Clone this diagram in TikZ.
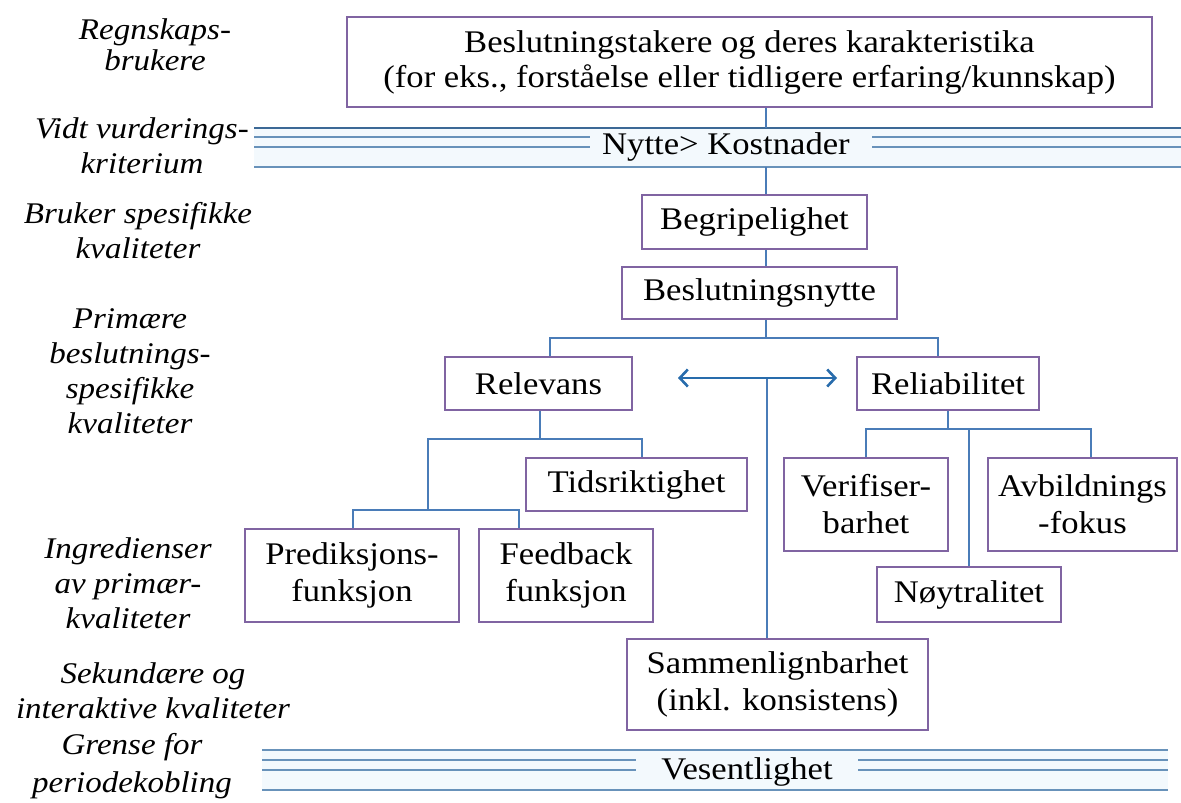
\documentclass[tikz,border=0pt]{standalone}
\usepackage{fontspec}
\setmainfont{Liberation Serif}[FakeStretch=1.1]
\usetikzlibrary{arrows.meta}

\definecolor{boxline}{RGB}{128,100,162}
\definecolor{linkblue}{RGB}{74,124,184}
\definecolor{bandblue}{RGB}{104,146,186}
\definecolor{banddark}{RGB}{60,105,150}
\definecolor{bandtint}{RGB}{243,249,253}
\definecolor{arrowblue}{RGB}{40,108,172}

\begin{document}
\begin{tikzpicture}[x=1pt,y=-1pt,
  box/.style={draw=boxline, line width=1.6pt, align=center, inner sep=0pt,
              font=\fontsize{31.5}{37}\selectfont},
  bandtext/.style={inner sep=0pt, font=\fontsize{31.5}{37}\selectfont},
  lbl/.style={align=center, inner sep=0pt, font=\fontsize{30}{35}\selectfont\itshape},
  conn/.style={draw=linkblue, line width=1.8pt},
  bandline/.style={draw=bandblue, line width=1.8pt},
  barb/.tip={Straight Barb[length=8pt,width=17pt,line width=2.6pt]},
]
\useasboundingbox[fill=white] (0,0) rectangle (1181,803);

% ---------- left column: level labels ----------
\node[lbl, font=\fontsize{30}{31}\selectfont\itshape] (lab1) at (155,45) {Regnskaps-\\brukere};
\node[lbl] (lab2) at (142,146) {Vidt vurderings-\\kriterium};
\node[lbl] (lab3) at (138,231) {Bruker spesifikke\\kvaliteter};
\node[lbl] (lab4) at (130,371) {Primære\\beslutnings-\\spesifikke\\kvaliteter};
\node[lbl] (lab5) at (128,583) {Ingredienser\\av primær-\\kvaliteter};
\node[lbl] (lab6) at (153,691) {Sekundære og\\interaktive kvaliteter};
\node[lbl, font=\fontsize{30}{38}\selectfont\itshape] (lab7) at (132,766) {Grense for\\periodekobling};

% ---------- band: Nytte > Kostnader ----------
\fill[bandtint] (254,128) rectangle (1181,167);
\draw[draw=banddark, line width=1.8pt] (254,128) -- (1181,128);
\draw[bandline] (254,137) -- (590,137) (254,147) -- (590,147);
\draw[bandline] (872,137) -- (1181,137) (872,147) -- (1181,147);
\draw[bandline] (254,167) -- (1181,167);
\node[bandtext] (nk) at (726,147) {Nytte> Kostnader};

% ---------- band: Vesentlighet ----------
\fill[bandtint] (262,750) rectangle (1168,790);
\draw[bandline] (262,750) -- (1168,750);
\draw[bandline] (262,760) -- (636,760) (262,770) -- (636,770);
\draw[bandline] (858,760) -- (1168,760) (858,770) -- (1168,770);
\draw[bandline] (262,790) -- (1168,790);
\node[bandtext] (ves) at (747,772) {Vesentlighet};

% ---------- boxes ----------
\node[box, minimum width=805pt, minimum height=90pt, font=\fontsize{31.5}{35}\selectfont]
  (top) at (749.5,62) {Beslutningstakere og deres karakteristika\\(for eks., forståelse eller tidligere erfaring/kunnskap)};
\node[box, minimum width=225pt, minimum height=54pt] (beg) at (754.5,222) {Begripelighet};
\node[box, minimum width=275pt, minimum height=52pt] (nyt) at (759.5,293) {Beslutningsnytte};
\node[box, minimum width=187pt, minimum height=53pt] (rel) at (538.5,383.5) {Relevans};
\node[box, minimum width=182pt, minimum height=53pt] (rlb) at (948,383.5) {Reliabilitet};
\node[box, minimum width=221pt, minimum height=53pt] (tid) at (636.5,484.5) {Tidsriktighet};
\node[box, minimum width=214pt, minimum height=93pt] (pred) at (352,575.5) {Prediksjons-\\funksjon};
\node[box, minimum width=174pt, minimum height=93pt] (feed) at (566,575.5) {Feedback\\funksjon};
\node[box, minimum width=164pt, minimum height=93pt] (ver) at (866,504.5) {Verifiser-\\barhet};
\node[box, minimum width=189pt, minimum height=93pt] (avb) at (1082.5,504.5) {Avbildnings\\-fokus};
\node[box, minimum width=184pt, minimum height=55pt] (noy) at (969,594.5) {Nøytralitet};
\node[box, minimum width=301pt, minimum height=91pt] (sam) at (777.5,684.5) {Sammenlignbarhet\\(inkl. konsistens)};

% ---------- junction points ----------
\coordinate (colM) at (766,0);
\coordinate (b1top) at (766,128);
\coordinate (b1bot) at (766,167);
\coordinate (barM) at (766,338);
\coordinate (barL) at (550,338);
\coordinate (barR) at (938,338);
\coordinate (relB) at (540,439);
\coordinate (jTL) at (428,439);
\coordinate (jTR) at (642,439);
\coordinate (jPF) at (428,510);
\coordinate (jP) at (353,510);
\coordinate (jF) at (519,510);
\coordinate (rlbB) at (948,429);
\coordinate (jV) at (866,429);
\coordinate (jA) at (1091,429);
\coordinate (jN) at (969,429);
\coordinate (arrL) at (678,378);
\coordinate (arrR) at (837,378);
\coordinate (midTop) at (767,378);

% ---------- connectors ----------
\draw[conn] (top.south -| colM) -- (b1top);
\draw[conn] (b1bot) -- (beg.north -| colM);
\draw[conn] (beg.south -| colM) -- (nyt.north -| colM);
\draw[conn] (nyt.south -| colM) -- (barM);
\draw[conn] (rel.north -| barL) -- (barL) -- (barR) -- (rlb.north -| barR);

\draw[conn] (rel.south -| relB) -- (relB);
\draw[conn] (jPF) -- (jTL) -- (jTR) -- (tid.north -| jTR);
\draw[conn] (pred.north -| jP) -- (jP) -- (jF) -- (feed.north -| jF);

\draw[conn] (rlb.south -| rlbB) -- (rlbB);
\draw[conn] (ver.north -| jV) -- (jV) -- (jA) -- (avb.north -| jA);
\draw[conn] (jN) -- (noy.north -| jN);

\draw[conn] (midTop) -- (sam.north -| midTop);
\draw[draw=arrowblue, line width=2.2pt, barb-barb] (arrL) -- (arrR);
\end{tikzpicture}
\end{document}
